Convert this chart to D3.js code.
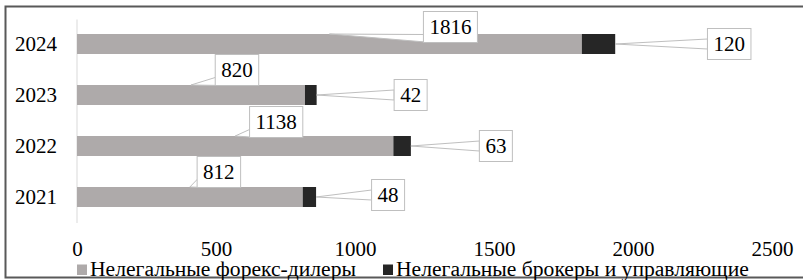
<!DOCTYPE html>
<html>
<head>
<meta charset="utf-8">
<script src="https://cdn.jsdelivr.net/npm/d3@7"></script>
<style>
  html, body { margin: 0; padding: 0; background: #fff; }
  svg { display: block; }
  text { font-family: "Liberation Serif", "Times New Roman", serif; fill: #000; }
</style>
</head>
<body>
<div id="chart"></div>
<script>
const years = ['2024', '2023', '2022', '2021'];
const forexDealers = [1816, 820, 1138, 812];
const brokers = [120, 42, 63, 48];
const xTicks = [0, 500, 1000, 1500, 2000, 2500];
const seriesNames = ['Нелегальные форекс-дилеры', 'Нелегальные брокеры и управляющие'];
const seriesColors = ['#aeaaaa', '#262626'];

// label box centre offsets from their anchor point (px)
const dealerLabelOffsets = [[121, -7], [46, -15], [41, -14], [29, -15]];
const brokerLabelOffsets = [[114, 0], [94, 0], [85, 0], [72, -2]];

const W = 803, H = 280;
const svg = d3.select('#chart').append('svg')
  .attr('width', W)
  .attr('height', H);

// outer frame (right side runs off the picture)
svg.append('rect')
  .attr('x', 5.5).attr('y', 6.5)
  .attr('width', 810).attr('height', 271)
  .attr('fill', 'none')
  .attr('stroke', '#595959')
  .attr('stroke-width', 2);

const x = d3.scaleLinear().domain([0, 2500]).range([77, 772]);
const y = d3.scaleBand().domain(years).range([18.5, 222.5]).paddingInner(0.608).paddingOuter(0.304);

// category axis line
svg.append('line')
  .attr('x1', x(0)).attr('x2', x(0))
  .attr('y1', 19.5).attr('y2', 223)
  .attr('stroke', '#d9d9d9').attr('stroke-width', 1);

// x tick labels
const xAxis = svg.append('g')
  .attr('transform', 'translate(0,241)')
  .call(d3.axisBottom(x).tickValues(xTicks).tickSize(0).tickPadding(0).tickFormat(d3.format('d')));
xAxis.select('.domain').remove();
xAxis.selectAll('text')
  .attr('dy', '0.71em')
  .style('font-size', '21px')
  .style('font-family', '"Liberation Serif", serif');

// y tick labels
const yAxis = svg.append('g')
  .attr('transform', 'translate(57,0)')
  .call(d3.axisLeft(y).tickSize(0).tickPadding(0));
yAxis.select('.domain').remove();
yAxis.selectAll('text')
  .style('font-size', '21px')
  .style('font-family', '"Liberation Serif", serif');

const rows = years.map((yr, i) => ({ year: yr, a: forexDealers[i], b: brokers[i], i }));

// bars
svg.selectAll('.bar-a').data(rows).enter().append('rect')
  .attr('class', 'bar-a')
  .attr('x', x(0))
  .attr('y', d => y(d.year))
  .attr('width', d => x(d.a) - x(0))
  .attr('height', y.bandwidth())
  .attr('fill', seriesColors[0]);

svg.selectAll('.bar-b').data(rows).enter().append('rect')
  .attr('class', 'bar-b')
  .attr('x', d => x(d.a))
  .attr('y', d => y(d.year))
  .attr('width', d => x(d.a + d.b) - x(d.a))
  .attr('height', y.bandwidth())
  .attr('fill', seriesColors[1]);

// callout labels
function callout(ax, ay, cx, cy, txt, side) {
  const g = svg.append('g').attr('class', 'callout');
  const t = g.append('text')
    .attr('x', cx).attr('y', cy)
    .attr('text-anchor', 'middle')
    .attr('dy', '0.35em')
    .style('font-size', '21px')
    .text(txt);
  const tw = t.node().getComputedTextLength();
  const bw = tw + 12, bh = 31;
  const left = cx - bw / 2, top = cy - bh / 2, bottom = cy + bh / 2;
  let pts;
  if (side === 'bl') {
    pts = [[ax, ay], [left, bottom - 8], [left + 8, bottom]];
  } else {
    pts = [[ax, ay], [left, cy - 5], [left, cy + 5]];
  }
  g.insert('path', 'text')
    .attr('d', d3.line()(pts) + 'Z')
    .attr('fill', '#fff')
    .attr('stroke', '#bfbfbf')
    .attr('stroke-width', 1);
  g.insert('rect', 'text')
    .attr('x', left).attr('y', top)
    .attr('width', bw).attr('height', bh)
    .attr('fill', '#fff')
    .attr('stroke', '#bfbfbf')
    .attr('stroke-width', 1);
}

rows.forEach(d => {
  const ax = x(d.a / 2), ay = y(d.year);
  const o = dealerLabelOffsets[d.i];
  callout(ax, ay, ax + o[0], ay + o[1], d.a, 'bl');
});
rows.forEach(d => {
  const ax = x(d.a + d.b), ay = y(d.year) + y.bandwidth() / 2;
  const o = brokerLabelOffsets[d.i];
  callout(ax, ay, ax + o[0], ay + o[1], d.b, 'l');
});

// legend
const legendPos = [77, 383];
seriesNames.forEach((name, i) => {
  svg.append('rect')
    .attr('x', legendPos[i]).attr('y', 264.5)
    .attr('width', 10).attr('height', 10.5)
    .attr('fill', seriesColors[i]);
  svg.append('text')
    .attr('x', legendPos[i] + 13).attr('y', 276)
    .style('font-size', '21.6px')
    .text(name);
});
</script>
</body>
</html>
